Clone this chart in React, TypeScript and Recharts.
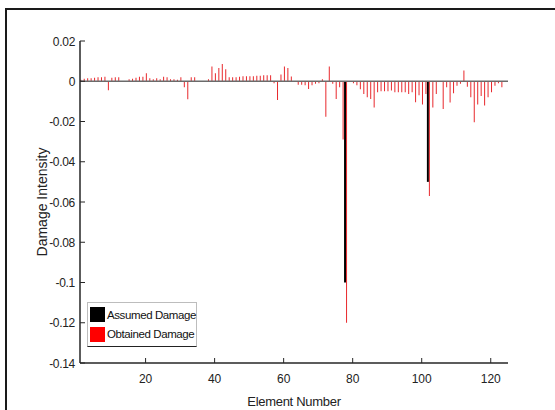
import { ComposedChart, Bar, XAxis, YAxis, ReferenceLine } from "recharts";

// element index 1..125
const ELEMENTS = Array.from({ length: 125 }, (_, i) => i + 1);

// obtained damage intensity per element
const OBTAINED = [
  0.0008, 0.0012, 0.0015, 0.0015, 0.0018, 0.002, 0.002, 0.0022, -0.0045, 0.0018,
  0.002, 0.002, 0, 0, 0.001, 0.0012, 0.0018, 0.0022, 0.0022, 0.004,
  0.0015, 0.001, 0.0015, 0.001, 0.0022, 0.002, 0.001, 0.001, 0.0008, 0.002,
  -0.003, -0.009, 0.002, 0.002, 0, 0, 0, 0.001, 0.0073, 0.004,
  0.0066, 0.0086, 0.006, 0.002, 0.002, 0.002, 0.0022, 0.0025, 0.0025, 0.0025,
  0.0025, 0.0027, 0.0027, 0.003, 0.003, 0.003, -0.001, -0.0093, 0.0033, 0.0073,
  0.0066, 0.0023, 0, -0.0017, -0.0017, -0.002, -0.0038, -0.002, -0.0013, -0.001,
  0.001, -0.0176, 0.0073, -0.0013, -0.0088, -0.003, -0.029, -0.12, 0, -0.001,
  -0.002, -0.004, -0.0063, -0.008, -0.0088, -0.013, -0.0055, -0.005, -0.005, -0.005,
  -0.0046, -0.0055, -0.0055, -0.0055, -0.0055, -0.0063, -0.0055, -0.0104, -0.007, -0.0116,
  -0.0063, -0.057, -0.013, -0.0063, 0, -0.0138, -0.003, -0.0106, -0.006, -0.0022,
  -0.0013, 0.0053, -0.0027, -0.008, -0.0204, -0.0115, -0.0073, -0.012, -0.008, -0.0055,
  -0.0022, -0.001, -0.003, 0, -0.0155,
];

// assumed (true) damage only at two elements
const ASSUMED_AT = [78, 102];
const ASSUMED = [-0.1, -0.05];

const X_TICKS = [20, 40, 60, 80, 100, 120];
const Y_TICKS = [0.02, 0, -0.02, -0.04, -0.06, -0.08, -0.1, -0.12, -0.14];

const SERIES = [
  { key: "assumed", name: "Assumed Damage", color: "#000000" },
  { key: "obtained", name: "Obtained Damage", color: "#ff0000" },
];

const FONT = '"Liberation Sans", Arial, sans-serif';
const AXIS_DARK = "#262626";
const AXIS_LIGHT = "#cfcfcf";
const TICK_LEN = 5;

const data = ELEMENTS.map((e, i) => {
  const k = ASSUMED_AT.indexOf(e);
  return { element: e, obtained: OBTAINED[i], assumed: k >= 0 ? ASSUMED[k] : 0 };
});

function BottomTick({ x, y, payload }: any) {
  return (
    <g>
      <line x1={x} x2={x} y1={y} y2={y - TICK_LEN} stroke={AXIS_DARK} />
      <text x={x} y={y + 20} textAnchor="middle" fontFamily={FONT} fontSize={12} fill="#222">
        {payload.value}
      </text>
    </g>
  );
}

function TopTick({ x, y }: any) {
  return <line x1={x} x2={x} y1={y} y2={y + TICK_LEN} stroke={AXIS_DARK} />;
}

function LeftTick({ x, y, payload }: any) {
  return (
    <g>
      <line x1={x} x2={x + TICK_LEN} y1={y} y2={y} stroke={AXIS_DARK} />
      <text x={x - 5} y={y + 4.5} textAnchor="end" fontFamily={FONT} fontSize={12} fill="#222" letterSpacing={-0.3}>
        {String(payload.value)}
      </text>
    </g>
  );
}

function RightTick({ x, y }: any) {
  return <line x1={x} x2={x - TICK_LEN} y1={y} y2={y} stroke={AXIS_DARK} />;
}

function LegendBox() {
  return (
    <div
      style={{
        position: "absolute",
        left: 87,
        top: 302,
        width: 110,
        padding: "2px 0 2px 2px",
        background: "#fff",
        border: "1px solid #bdbdbd",
        borderBottom: "1.5px solid #222",
        fontFamily: FONT,
        fontSize: 11.5,
        letterSpacing: -0.4,
        color: "#111",
        boxSizing: "border-box",
        whiteSpace: "nowrap",
      }}
    >
      {SERIES.map((it) => (
        <div key={it.name} style={{ display: "flex", alignItems: "center", height: 19.5 }}>
          <span style={{ width: 15, height: 15, background: it.color, marginRight: 2, flex: "none" }} />
          <span>{it.name}</span>
        </div>
      ))}
    </div>
  );
}

export default function App() {
  return (
    <div style={{ position: "absolute", left: 0, top: 0, width: 555, height: 410, background: "#fff", overflow: "hidden" }}>
      <div
        style={{
          position: "absolute",
          left: 5,
          top: 8,
          width: 570,
          height: 430,
          border: "2px solid #1a1a1a",
          boxSizing: "border-box",
        }}
      />
      <ComposedChart
        width={555}
        height={410}
        data={data}
        margin={{ top: 41, right: 47, bottom: 0, left: 0 }}
        barGap={0}
        style={{ position: "absolute", left: 0, top: 0 }}
      >
        <XAxis
          xAxisId="bottom"
          dataKey="element"
          type="number"
          domain={[1, 125]}
          ticks={X_TICKS}
          allowDataOverflow
          height={47}
          tickSize={0}
          tickMargin={0}
          tickLine={false}
          tick={<BottomTick />}
          axisLine={{ stroke: AXIS_DARK, strokeWidth: 1.5 }}
          label={{
            value: "Element Number",
            position: "insideBottom",
            offset: 4,
            style: { fontFamily: FONT, fontSize: 13, fill: "#222", letterSpacing: -0.3 },
          }}
        />
        <XAxis
          xAxisId="top"
          orientation="top"
          dataKey="element"
          type="number"
          domain={[1, 125]}
          ticks={X_TICKS}
          allowDataOverflow
          height={0}
          tickSize={0}
          tickMargin={0}
          tickLine={false}
          tick={<TopTick />}
          axisLine={{ stroke: AXIS_LIGHT }}
        />
        <YAxis
          yAxisId="left"
          type="number"
          domain={[-0.14, 0.02]}
          ticks={Y_TICKS}
          allowDataOverflow
          width={80}
          tickSize={0}
          tickMargin={0}
          tickLine={false}
          tick={<LeftTick />}
          axisLine={{ stroke: AXIS_DARK, strokeWidth: 1.5 }}
          label={{
            value: "Damage Intensity",
            angle: -90,
            position: "insideLeft",
            offset: 42,
            style: { textAnchor: "middle", fontFamily: FONT, fontSize: 14, fill: "#222" },
          }}
        />
        <YAxis
          yAxisId="right"
          orientation="right"
          type="number"
          domain={[-0.14, 0.02]}
          ticks={Y_TICKS}
          allowDataOverflow
          width={0}
          tickSize={0}
          tickMargin={0}
          tickLine={false}
          tick={<RightTick />}
          axisLine={{ stroke: AXIS_LIGHT }}
        />
        <Bar
          xAxisId="bottom"
          yAxisId="left"
          dataKey="assumed"
          name={SERIES[0].name}
          fill="#000000"
          barSize={2}
          isAnimationActive={false}
        />
        <Bar
          xAxisId="bottom"
          yAxisId="left"
          dataKey="obtained"
          name={SERIES[1].name}
          fill="#e8282c"
          barSize={1}
          isAnimationActive={false}
        />
        <ReferenceLine xAxisId="bottom" yAxisId="left" y={0} stroke="#6b6b6b" strokeWidth={1.5} />
      </ComposedChart>
      <LegendBox />
    </div>
  );
}
